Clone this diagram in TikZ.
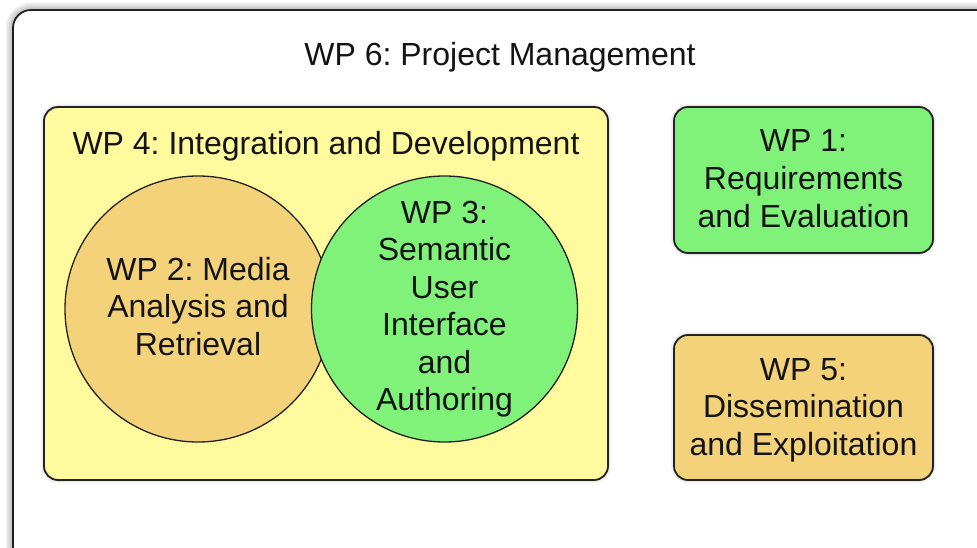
\documentclass[tikz,border=0pt]{standalone}
\usepackage{fontspec}
\setmainfont{Liberation Sans}
\frenchspacing
\definecolor{wpyellow}{HTML}{FFFA9E}
\definecolor{wporange}{HTML}{F4D27A}
\definecolor{wpgreen}{HTML}{80F27A}
\definecolor{wpline}{HTML}{222222}
\begin{document}
\begin{tikzpicture}[x=1pt,y=-1pt,
  wptext/.style={font=\fontsize{32}{37.5}\selectfont, align=center, inner sep=0pt, text=black!92},
  wpbox/.style={rectangle, draw=wpline, line width=1.8pt, rounded corners=14pt, outer sep=0pt, inner sep=0pt},
  wpcircle/.style={circle, draw=wpline, line width=1.3pt, minimum size=266pt, inner sep=0pt, outer sep=0pt},
  glow/.style={draw=black, opacity=0.05, line width=#1}]
\useasboundingbox (0,0) rectangle (977,548);
\clip (0,0) rectangle (977,548);

% soft shadow round the outer frame
\foreach \w in {3,6,9,12,15}
  \draw[glow=\w pt, rounded corners=18pt] (13,10) rectangle (1000,565);

% outer frame: WP 6
\node[wpbox, rounded corners=18pt, fill=white, minimum width=987pt, minimum height=555pt,
      anchor=north west] (wp6) at (13,10) {};
\node[wptext, anchor=base] (t6) at (500,66) {WP 6: Project Management};

% slight shadows under the inner boxes
\foreach \w in {3,6}{
  \draw[glow=\w pt, rounded corners=14pt] (44,107) rectangle (608,480);
  \draw[glow=\w pt, rounded corners=14pt] (674,107) rectangle (933,253);
  \draw[glow=\w pt, rounded corners=14pt] (674,335) rectangle (933,480);
}

% WP 4 container
\node[wpbox, fill=wpyellow, minimum width=564pt, minimum height=373pt] (wp4) at (326,293.5) {};
\node[wptext, anchor=base] (t4) at (326,155) {WP 4: Integration and Development};

% WP 2 and WP 3 circles (WP 3 lies on top)
\node[wpcircle, fill=wporange] (wp2) at (198,309) {};
\node[wpcircle, fill=wpgreen] (wp3) at (444.5,309) {};
\node[wptext] (t2) at (198,310) {\strut WP 2: Media\\\strut Analysis and\\\strut Retrieval};
\node[wptext] (t3) at (444.5,309.5) {\strut WP 3:\\\strut Semantic\\\strut User\\\strut Interface\\\strut and\\\strut Authoring};

% WP 1 and WP 5 boxes
\node[wpbox, fill=wpgreen, minimum width=259pt, minimum height=146pt] (wp1) at (803.5,180) {};
\node[wptext] (t1) at (803.5,182) {\strut WP 1:\\\strut Requirements\\\strut and Evaluation};
\node[wpbox, fill=wporange, minimum width=259pt, minimum height=145pt] (wp5) at (803.5,407.5) {};
\node[wptext] (t5) at (803.5,410) {\strut WP 5:\\\strut Dissemination\\\strut and Exploitation};
\end{tikzpicture}
\end{document}
